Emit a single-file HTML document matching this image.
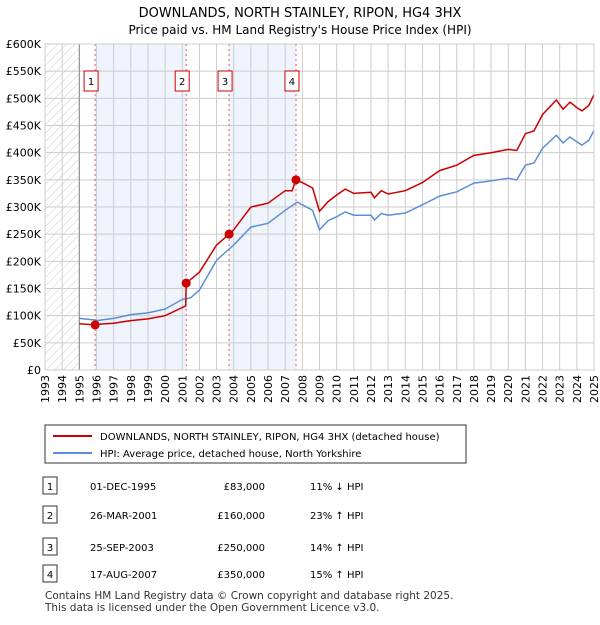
<!DOCTYPE html>
<html><head><meta charset="utf-8"><style>
body{margin:0;background:#fff;font-family:"Liberation Sans","DejaVu Sans",sans-serif;}
svg text{font-family:"DejaVu Sans","Liberation Sans",sans-serif;}
</style></head><body>
<svg width="600" height="620" xmlns="http://www.w3.org/2000/svg">
<defs><pattern id="hatch" width="6" height="6" patternUnits="userSpaceOnUse" patternTransform="rotate(45)"><line x1="0" y1="0" x2="0" y2="6" stroke="#ccc" stroke-width="1"/></pattern></defs>
<text x="300" y="17" text-anchor="middle" font-size="13">DOWNLANDS, NORTH STAINLEY, RIPON, HG4 3HX</text>
<text x="300" y="34" text-anchor="middle" font-size="12">Price paid vs. HM Land Registry's House Price Index (HPI)</text>
<g id="plot"></g>
<g>
<rect x="45" y="425" width="421" height="38" fill="#fff" stroke="#333"/>
<line x1="53" y1="436" x2="92" y2="436" stroke="#cc0000" stroke-width="2"/>
<text x="100" y="440" font-size="10">DOWNLANDS, NORTH STAINLEY, RIPON, HG4 3HX (detached house)</text>
<line x1="53" y1="453" x2="92" y2="453" stroke="#5b8ed6" stroke-width="2"/>
<text x="100" y="457" font-size="10">HPI: Average price, detached house, North Yorkshire</text>
</g>
<g id="table" font-size="10"></g>
<text x="45" y="599" font-size="10.5" fill="#333">Contains HM Land Registry data © Crown copyright and database right 2025.</text>
<text x="45" y="611" font-size="10.5" fill="#333">This data is licensed under the Open Government Licence v3.0.</text>
</svg>
<script>
const hpiYears=[1995,1995.9,1996,1997,1998,1999,2000,2001,2001.5,2002,2003,2004,2005,2006,2007,2007.7,2008,2008.6,2009,2009.5,2010,2010.5,2011,2012,2012.2,2012.6,2013,2014,2015,2016,2017,2018,2019,2020,2020.5,2021,2021.5,2022,2022.8,2023.2,2023.6,2024,2024.3,2024.7,2025];
const hpiValues=[95,92,91,95,102,105,112,130,133,147,202,230,263,270,294,309,304,294,258,275,282,291,285,285,276,288,285,289,304,320,328,344,348,353,350,377,381,408,432,418,429,420,414,423,441];
const priceYears=[1995,1995.9,1996,1997,1998,1999,2000,2001.2,2001.23,2002,2003,2003.73,2004,2005,2006,2007,2007.4,2007.63,2008,2008.6,2009,2009.5,2010,2010.5,2011,2012,2012.2,2012.6,2013,2014,2015,2016,2017,2018,2019,2020,2020.5,2021,2021.5,2022,2022.8,2023.2,2023.6,2024,2024.3,2024.7,2025];
const priceValues=[85,83,84,86,91,94,100,118,160,180,230,250,258,300,307,330,330,350,345,335,292,310,322,333,325,327,317,330,324,330,345,367,377,395,400,406,404,435,440,470,497,480,493,483,477,487,507];
const saleYears=[1995.92,2001.23,2003.73,2007.63];
const saleValues=[83,160,250,350];
const saleLabels=["1","2","3","4"];
const saleDates=["01-DEC-1995","26-MAR-2001","25-SEP-2003","17-AUG-2007"];
const salePrices=["£83,000","£160,000","£250,000","£350,000"];
const saleHpi=["11% ↓ HPI","23% ↑ HPI","14% ↑ HPI","15% ↑ HPI"];
const yTicks=[0,50,100,150,200,250,300,350,400,450,500,550,600];
const yTickLabels=["£0","£50K","£100K","£150K","£200K","£250K","£300K","£350K","£400K","£450K","£500K","£550K","£600K"];
const xTicks=[1993,1994,1995,1996,1997,1998,1999,2000,2001,2002,2003,2004,2005,2006,2007,2008,2009,2010,2011,2012,2013,2014,2015,2016,2017,2018,2019,2020,2021,2022,2023,2024,2025];

const L=45,R=594,T=44,B=370,NS="http://www.w3.org/2000/svg";
const X=y=>L+(y-1993)/(2025-1993)*(R-L);
const Y=v=>B-v/600*(B-T);
const plot=document.getElementById('plot');
function mk(tag,attrs,parent){const e=document.createElementNS(NS,tag);for(const k in attrs)e.setAttribute(k,attrs[k]);(parent||plot).appendChild(e);return e;}
let e=mk('rect',{x:X(1993),y:T,width:X(1995)-X(1993),height:B-T,fill:'url(#hatch)'});


for(let i=0;i<saleYears.length;i+=2){
 e=mk('rect',{x:X(saleYears[i]),y:T,width:X(saleYears[i+1])-X(saleYears[i]),height:B-T,fill:'#eef3fc'});
 
 
}
xTicks.forEach(t=>{e=mk('line',{x1:X(t),y1:T,x2:X(t),y2:B,stroke:'#ccc'});
 
 
 e=mk('text',{x:0,y:0,'font-size':11,'text-anchor':'end',transform:`translate(${X(t)+4},${B+5}) rotate(-90)`});e.textContent=t;
 
 });
yTicks.forEach((t,i)=>{e=mk('line',{x1:L,y1:Y(t),x2:R,y2:Y(t),stroke:'#ccc'});
 
 
 e=mk('text',{x:L-4,y:Y(t)+4,'font-size':11,'text-anchor':'end'});e.textContent=yTickLabels[i];
 
 });
e=mk('line',{x1:X(1995),y1:T,x2:X(1995),y2:B,stroke:'#888'});


saleYears.forEach((s,i)=>{e=mk('line',{x1:X(s),y1:T,x2:X(s),y2:B,stroke:'#e06060','stroke-dasharray':'2,3'});
 
 });
const pts=(xs,vs)=>xs.map((x,i)=>X(x).toFixed(1)+','+Y(vs[i]).toFixed(1)).join(' ');
e=mk('polyline',{points:pts(hpiYears,hpiValues),fill:'none',stroke:'#5b8ed6','stroke-width':1.5});


e=mk('polyline',{points:pts(priceYears,priceValues),fill:'none',stroke:'#cc0000','stroke-width':1.5});


saleYears.forEach((s,i)=>{e=mk('circle',{cx:X(s),cy:Y(saleValues[i]),r:4.5,fill:'#cc0000'});
 
 
 const bx=X(s)-(i==0?6:i==3?6:i==1?8:5);
 e=mk('rect',{x:X(s)-11,y:71,width:14,height:20,fill:'#fff',stroke:'#cc0000'});
 
 
 e=mk('text',{x:X(s)-4,y:85,'font-size':10,'text-anchor':'middle'});e.textContent=saleLabels[i];
 
 });
mk('rect',{x:L,y:T,width:R-L,height:B-T,fill:'none',stroke:'#ccc'});
const tb=document.getElementById('table');const rowY=[486,515,547,574];
saleLabels.forEach((l,i)=>{const y=rowY[i];
 e=mk('rect',{x:43,y:y-9,width:14,height:17,fill:'#fff',stroke:'#333'},tb);
 
 
 e=mk('text',{x:50,y:y+4,'text-anchor':'middle'},tb);e.textContent=l;
 
 
 e=mk('text',{x:90,y:y+4},tb);e.textContent=saleDates[i];
 
 
 e=mk('text',{x:265,y:y+4,'text-anchor':'end'},tb);e.textContent=salePrices[i];
 
 
 e=mk('text',{x:310,y:y+4},tb);e.textContent=saleHpi[i];
 
 });
</script>
</body></html>
